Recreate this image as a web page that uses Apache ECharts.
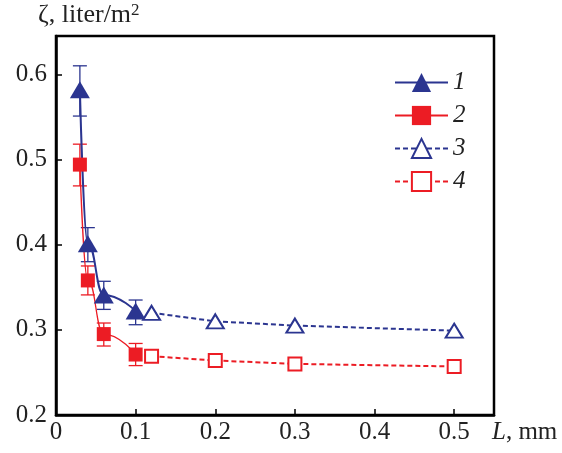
<!DOCTYPE html>
<html>
<head>
<meta charset="utf-8">
<script src="https://cdn.jsdelivr.net/npm/echarts@6/dist/echarts.min.js"></script>
<style>
  html, body { margin: 0; padding: 0; background: #fff; }
  #chart { width: 562px; height: 453px; }
</style>
</head>
<body>
<div id="chart"></div>
<script>
  // values
  const blue = "#2b3590";
  const red = "#ec1c24";
  const serif = "Liberation Serif";

  const xTicks = [0, 0.1, 0.2, 0.3, 0.4, 0.5];
  const yTicks = [0.2, 0.3, 0.4, 0.5, 0.6];

  // 1: filled triangles, solid line
  const s1 = [[0.03, 0.582], [0.04, 0.401], [0.06, 0.341], [0.1, 0.322]];
  const s1Low = [0.551, 0.380, 0.324, 0.306];
  const s1High = [0.610, 0.420, 0.357, 0.335];

  // 2: filled squares, solid line
  const s2 = [[0.03, 0.494], [0.04, 0.358], [0.06, 0.295], [0.1, 0.271]];
  const s2Low = [0.469, 0.341, 0.281, 0.258];
  const s2High = [0.518, 0.375, 0.308, 0.284];

  // 3: open triangles, dashed
  const s3 = [[0.12, 0.320], [0.2, 0.310], [0.3, 0.305], [0.5, 0.299]];

  // 4: open squares, dashed
  const s4 = [[0.12, 0.269], [0.2, 0.264], [0.3, 0.260], [0.5, 0.257]];

  function errData(pts, low, high) {
    return pts.map((p, i) => [p[0], low[i], high[i]]);
  }

  function errorBars(color) {
    return function (params, api) {
      let x = api.value(0);
      let lo = api.coord([x, api.value(1)]);
      let hi = api.coord([x, api.value(2)]);
      let w = 7;
      let style = { stroke: color, lineWidth: 1.3 };
      return {
        type: "group",
        children: [
          { type: "line", shape: { x1: lo[0], y1: lo[1], x2: hi[0], y2: hi[1] }, style },
          { type: "line", shape: { x1: lo[0] - w, y1: lo[1], x2: lo[0] + w, y2: lo[1] }, style },
          { type: "line", shape: { x1: hi[0] - w, y1: hi[1], x2: hi[0] + w, y2: hi[1] }, style }
        ]
      };
    };
  }

  const chart = echarts.init(document.getElementById("chart"));

  chart.setOption({
    animation: false,
    textStyle: { fontFamily: serif },
    grid: {
      left: 56, right: 68, top: 36, bottom: 38,
      outerBoundsMode: "none",
      show: true, borderColor: "#000", borderWidth: 2.5
    },
    legend: {
      orient: "vertical",
      left: 389,
      top: 65,
      itemWidth: 53,
      itemHeight: 24,
      itemGap: 8,
      data: ["1", "2", "3", "4"],
      textStyle: { fontFamily: serif, fontStyle: "italic", fontSize: 25, color: "#222" }
    },
    xAxis: {
      type: "value",
      min: 0, max: 0.55, interval: 0.1,
      name: "{i|L}, mm",
      nameLocation: "end",
      nameGap: -2,
      nameTextStyle: {
        fontFamily: serif, fontSize: 25, color: "#222",
        align: "left", verticalAlign: "top", padding: [5, 0, 0, 0],
        rich: { i: { fontFamily: serif, fontStyle: "italic", fontSize: 25, color: "#222" } }
      },
      axisLine: { lineStyle: { color: "#000", width: 2.5 } },
      axisTick: { inside: true, length: 6, lineStyle: { color: "#000", width: 1.5 },
        customValues: xTicks },
      axisLabel: {
        fontFamily: serif, fontSize: 25, color: "#222", margin: 5,
        customValues: xTicks,
        formatter: v => v === 0 ? "0" : v.toFixed(1)
      },
      splitLine: { show: false }
    },
    yAxis: {
      type: "value",
      min: 0.2, max: 0.645, interval: 0.1,
      name: "ζ, liter/m{s|2}",
      nameLocation: "end",
      nameGap: 8,
      nameTextStyle: {
        fontFamily: serif, fontSize: 26, color: "#222",
        align: "left", padding: [0, 0, 0, -18],
        rich: { s: { fontFamily: serif, fontSize: 17, color: "#222", verticalAlign: "top", padding: [0, 0, 8, 0] } }
      },
      axisLine: { lineStyle: { color: "#000", width: 2.5 } },
      axisTick: { inside: true, length: 6, lineStyle: { color: "#000", width: 1.5 },
        customValues: yTicks },
      axisLabel: {
        fontFamily: serif, fontSize: 25, color: "#222", margin: 9,
        customValues: yTicks,
        formatter: v => v.toFixed(1)
      },
      splitLine: { show: false }
    },
    series: [
      {
        type: "custom", name: "err1", silent: true, z: 1,
        renderItem: errorBars(blue),
        encode: { x: 0, y: [1, 2] },
        data: errData(s1, s1Low, s1High)
      },
      {
        type: "custom", name: "err2", silent: true, z: 1,
        renderItem: errorBars(red),
        encode: { x: 0, y: [1, 2] },
        data: errData(s2, s2Low, s2High)
      },
      {
        name: "1", type: "line", z: 3,
        data: s1,
        smooth: 0.5, smoothMonotone: "x",
        symbol: "triangle", symbolSize: [20, 17],
        lineStyle: { color: blue, width: 2 },
        itemStyle: { color: blue, borderWidth: 0 }
      },
      {
        name: "2", type: "line", z: 3,
        data: s2,
        smooth: 0.5, smoothMonotone: "x",
        symbol: "rect", symbolSize: 14,
        lineStyle: { color: red, width: 1.3 },
        itemStyle: { color: red, borderWidth: 0 }
      },
      {
        name: "3", type: "line", z: 3,
        data: s3,
        symbol: "emptyTriangle", symbolSize: [17, 14],
        lineStyle: { color: blue, width: 2, type: [5, 3] },
        itemStyle: { color: blue, borderColor: blue, borderWidth: 2.5 }
      },
      {
        name: "4", type: "line", z: 3,
        data: s4,
        symbol: "emptyRect", symbolSize: 13,
        lineStyle: { color: red, width: 2, type: [5, 3] },
        itemStyle: { color: red, borderColor: red, borderWidth: 2.5 }
      }
    ]
  });
</script>
</body>
</html>
